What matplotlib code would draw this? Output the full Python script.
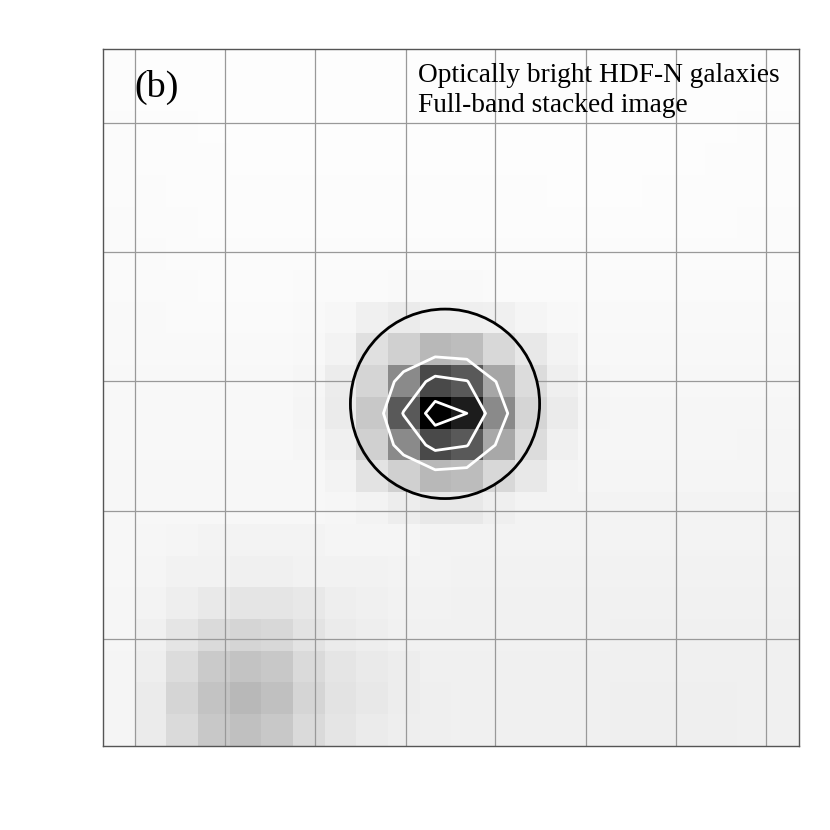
import numpy as np
import matplotlib
matplotlib.use('Agg')
import matplotlib.pyplot as plt
from matplotlib.patches import Circle

plt.rcParams['font.family'] = ['Liberation Serif', 'DejaVu Serif']

# stacked full-band image, displayed grey level per pixel (0 = black, 255 = white)
stack_gray = np.array([
    [252, 253, 253, 253, 253, 253, 253, 253, 253, 253, 253, 253, 253, 253, 253, 253, 253, 253, 253, 253, 253, 253],
    [252, 253, 253, 253, 253, 253, 253, 253, 253, 253, 253, 253, 253, 253, 253, 253, 253, 253, 253, 253, 253, 253],
    [251, 252, 252, 253, 253, 253, 253, 253, 253, 253, 253, 253, 253, 253, 253, 253, 253, 253, 253, 253, 252, 252],
    [251, 252, 252, 252, 253, 253, 253, 253, 253, 253, 253, 253, 253, 253, 253, 253, 253, 253, 253, 252, 252, 252],
    [251, 251, 252, 252, 252, 252, 252, 252, 252, 252, 252, 252, 252, 252, 253, 253, 253, 252, 252, 252, 252, 252],
    [250, 251, 251, 252, 252, 252, 252, 252, 252, 252, 252, 252, 252, 252, 252, 252, 252, 252, 252, 252, 251, 251],
    [250, 250, 251, 251, 251, 251, 251, 251, 251, 251, 251, 251, 251, 251, 251, 251, 251, 251, 251, 251, 251, 251],
    [250, 250, 250, 251, 251, 251, 250, 250, 250, 249, 249, 249, 250, 250, 250, 250, 250, 250, 250, 250, 250, 250],
    [249, 249, 250, 250, 250, 250, 249, 247, 240, 235, 239, 239, 240, 245, 248, 249, 249, 249, 249, 249, 249, 249],
    [249, 249, 249, 249, 249, 249, 248, 243, 224, 208, 184, 189, 216, 232, 243, 248, 248, 248, 248, 248, 248, 248],
    [248, 248, 248, 248, 248, 248, 246, 236, 213, 138, 74, 90, 166, 220, 239, 246, 247, 247, 247, 247, 247, 247],
    [248, 248, 248, 248, 248, 248, 245, 235, 200, 90, 0, 28, 138, 213, 235, 245, 246, 246, 246, 246, 246, 246],
    [248, 248, 248, 248, 248, 248, 246, 240, 208, 138, 74, 90, 168, 220, 240, 246, 246, 246, 246, 246, 245, 245],
    [247, 247, 247, 247, 247, 247, 247, 243, 227, 208, 184, 188, 216, 232, 243, 245, 245, 245, 245, 245, 245, 245],
    [247, 247, 247, 247, 247, 247, 247, 246, 243, 237, 232, 232, 239, 243, 244, 244, 244, 244, 244, 244, 244, 244],
    [247, 246, 245, 244, 244, 244, 244, 245, 245, 245, 244, 243, 243, 243, 243, 243, 243, 243, 243, 243, 243, 243],
    [247, 245, 242, 242, 240, 240, 242, 242, 242, 243, 243, 242, 242, 242, 242, 242, 242, 242, 242, 242, 242, 242],
    [246, 243, 238, 233, 229, 229, 232, 238, 240, 242, 242, 241, 241, 241, 241, 241, 241, 241, 241, 241, 241, 241],
    [246, 240, 229, 218, 213, 216, 227, 235, 238, 241, 241, 241, 241, 241, 241, 241, 240, 240, 240, 240, 240, 240],
    [245, 238, 220, 202, 195, 200, 218, 229, 234, 237, 240, 240, 240, 240, 240, 240, 240, 240, 240, 240, 240, 240],
    [245, 235, 213, 195, 184, 192, 213, 227, 232, 237, 239, 240, 240, 240, 240, 240, 239, 239, 239, 239, 240, 240],
    [245, 235, 218, 200, 192, 200, 218, 229, 235, 238, 239, 240, 240, 240, 240, 240, 239, 239, 239, 239, 240, 240],
])

# contour levels (grey level units)
contour_levels = [28, 93, 160]

# coordinate grid lines, in image pixel units
grid_x = [0.52, 3.37, 6.21, 9.07, 11.90, 14.77, 17.61, 20.46]
grid_y = [1.84, 5.91, 9.98, 14.08, 18.12]

# extraction aperture (pixel units)
aper_x, aper_y, aper_r = 10.31, 10.70, 2.99

panel_label = '(b)'
title_lines = ['Optically bright HDF-N galaxies', 'Full-band stacked image']

fig = plt.figure(figsize=(8.3, 8.3), dpi=100)
ax = fig.add_axes([0.1241, 0.1012, 0.8386, 0.8398])

ax.imshow(stack_gray, cmap='gray', vmin=0, vmax=255, origin='upper',
          interpolation='nearest', aspect='auto')

for gx in grid_x:
    ax.axvline(gx, color='#999999', linewidth=0.9, zorder=2)
for gy in grid_y:
    ax.axhline(gy, color='#999999', linewidth=0.9, zorder=2)

# grid is not drawn inside the aperture: repaint the image there
aperture = Circle((aper_x, aper_y), aper_r, facecolor='none',
                  edgecolor='black', linewidth=2.0, zorder=5)
ax.add_patch(aperture)
inner = ax.imshow(stack_gray, cmap='gray', vmin=0, vmax=255, origin='upper',
                  interpolation='nearest', aspect='auto', zorder=3)
inner.set_clip_path(aperture)

cols = np.arange(stack_gray.shape[1])
rows = np.arange(stack_gray.shape[0])
ax.contour(cols, rows, stack_gray, levels=contour_levels, colors='white',
           linewidths=2.0, zorder=4)

ax.set_xlim(-0.5, 21.5)
ax.set_ylim(21.5, -0.5)
ax.set_xticks([])
ax.set_yticks([])
for sp in ax.spines.values():
    sp.set_color('#555555')
    sp.set_linewidth(1.0)

ax.text(0.045, 0.931, panel_label, transform=ax.transAxes, fontsize=27.5,
        va='baseline', ha='left', zorder=6)
ax.text(0.453, 0.952, title_lines[0], transform=ax.transAxes, fontsize=19.7,
        va='baseline', ha='left', zorder=6)
ax.text(0.453, 0.9096, title_lines[1], transform=ax.transAxes, fontsize=19.7,
        va='baseline', ha='left', zorder=6)

plt.savefig('out.png', dpi=100)
